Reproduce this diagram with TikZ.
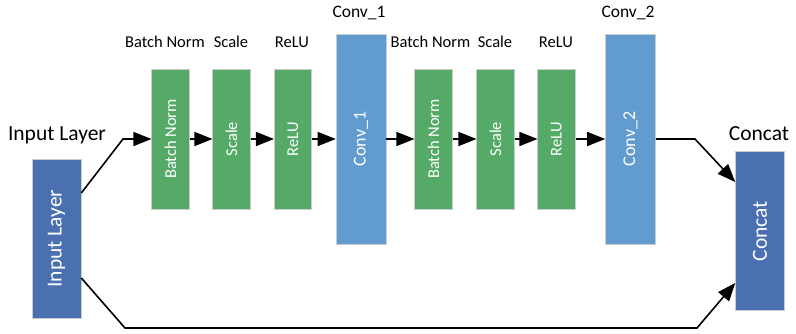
\documentclass[tikz,border=0pt]{standalone}
\usepackage{fontspec}
\setmainfont{Carlito}
\usetikzlibrary{arrows.meta,calc}
\definecolor{layergreen}{HTML}{55AA68}
\definecolor{convblue}{HTML}{629BD0}
\definecolor{ioblue}{HTML}{4A70B2}
\tikzset{
  x=1pt, y=-1pt,
  layer/.style={rectangle, draw=white!80!black, line width=0.6pt, inner sep=0pt, text=white},
  greenbox/.style={layer, fill=layergreen, minimum width=37.5pt, minimum height=140pt, font=\fontsize{16.5}{16.5}\selectfont},
  convbox/.style={layer, fill=convblue, minimum width=50pt, minimum height=210pt, font=\fontsize{18}{18}\selectfont},
  iobox/.style={layer, fill=ioblue, minimum width=49pt, minimum height=159pt, font=\fontsize{21.5}{21.5}\selectfont},
  smalltag/.style={anchor=base, inner sep=0pt, font=\fontsize{16.5}{16.5}\selectfont},
  convtag/.style={anchor=base, inner sep=0pt, font=\fontsize{17.5}{17.5}\selectfont},
  iotag/.style={anchor=base, inner sep=0pt, font=\fontsize{21.5}{21.5}\selectfont},
  link/.style={line width=1.6pt, draw=black},
  flow/.style={link, -{Triangle[length=18pt,width=14pt]}}
}
\begin{document}
\begin{tikzpicture}
\useasboundingbox (0,0) rectangle (796,333);

% layer blocks
\node[iobox]    (inp)   at (56.5,238.5) {\rotatebox{90}{Input Layer}};
\node[greenbox] (bn1)   at (170.5,139)  {\rotatebox{90}{Batch Norm}};
\node[greenbox] (sc1)   at (231.5,139)  {\rotatebox{90}{Scale}};
\node[greenbox] (re1)   at (293,139)    {\rotatebox{90}{ReLU}};
\node[convbox]  (cv1)   at (361,139)    {\rotatebox{90}{Conv\_1}};
\node[greenbox] (bn2)   at (433.5,139)  {\rotatebox{90}{Batch Norm}};
\node[greenbox] (sc2)   at (495.5,139)  {\rotatebox{90}{Scale}};
\node[greenbox] (re2)   at (556.5,139)  {\rotatebox{90}{ReLU}};
\node[convbox]  (cv2)   at (630.5,139)  {\rotatebox{90}{Conv\_2}};
\node[iobox]    (cat)   at (760,231)    {\rotatebox{90}{Concat}};

% captions above the blocks
\node[iotag]    (tinp) at (57,140)  {Input Layer};
\node[smalltag] (tbn1) at (165,47)  {Batch Norm};
\node[smalltag] (tsc1) at (231,47)  {Scale};
\node[smalltag] (tre1) at (292,47)  {ReLU};
\node[convtag]  (tcv1) at (359,17)  {Conv\_1};
\node[smalltag] (tbn2) at (430.5,47) {Batch Norm};
\node[smalltag] (tsc2) at (495,47)  {Scale};
\node[smalltag] (tre2) at (556,47)  {ReLU};
\node[convtag]  (tcv2) at (628,17)  {Conv\_2};
\node[iotag]    (tcat) at (759,140) {Concat};

% bends of the two routes
\coordinate (k1) at (123,139);
\coordinate (k2) at (695,139);
\coordinate (k3) at (125,328);
\coordinate (k4) at (697,328);

% main chain
\draw[flow] ([yshift=45.5pt]inp.east) -- (k1) -- (bn1);
\draw[flow] (bn1) -- (sc1);
\draw[flow] (sc1) -- (re1);
\draw[flow] (re1) -- (cv1);
\draw[flow] (cv1) -- (bn2);
\draw[flow] (bn2) -- (sc2);
\draw[flow] (sc2) -- (re2);
\draw[flow] (re2) -- (cv2);
\draw[flow] (cv2) -- (k2) -- ([yshift=49pt]cat.west);

% shortcut
\draw[flow] ([yshift=-39.5pt]inp.east) -- (k3) -- (k4) -- ([yshift=-52pt]cat.west);
\end{tikzpicture}
\end{document}
